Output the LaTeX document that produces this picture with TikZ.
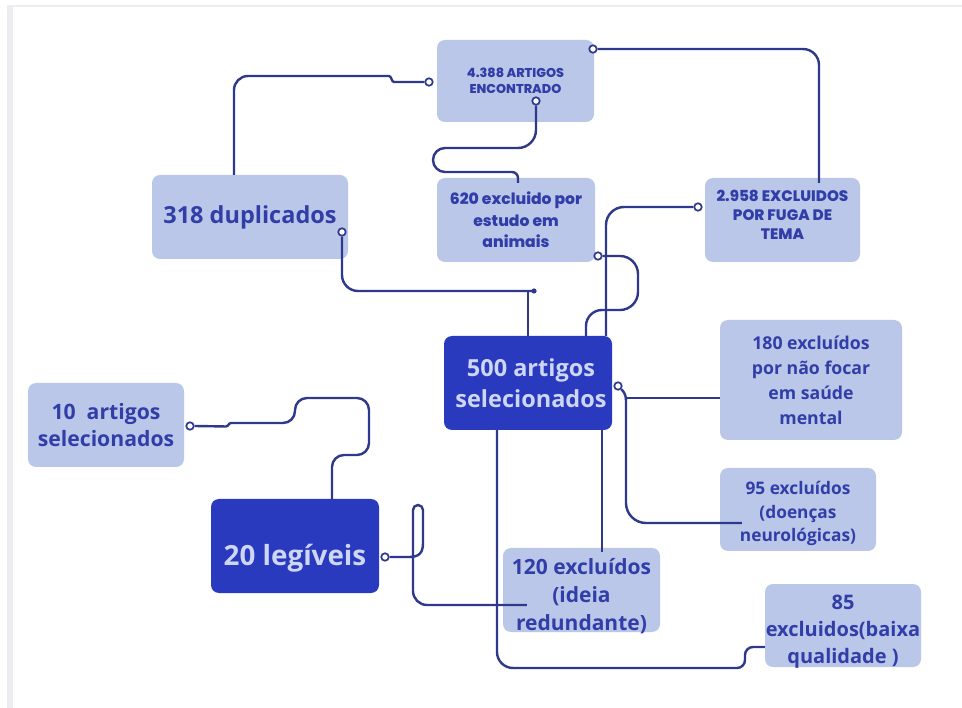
\documentclass[tikz,border=0pt]{standalone}
\usepackage{fontspec}
\setmainfont{Open Sans}
\newfontfamily\pop{Poppins}[BoldFont={* ExtraBold}]
\usetikzlibrary{calc}
\definecolor{lightb}{RGB}{186,199,232}
\definecolor{darkb}{RGB}{42,58,190}
\definecolor{txtc}{RGB}{50,62,168}
\definecolor{dtxt}{RGB}{205,214,245}
\definecolor{wirec}{RGB}{46,57,140}
\definecolor{framec}{RGB}{236,236,241}
\tikzset{
  lbox/.style={fill=lightb, rounded corners=8pt, inner sep=0pt},
  dbox/.style={fill=darkb, rounded corners=8pt, inner sep=0pt},
  lt/.style={text=txtc, align=center, inner sep=0pt},
  dt/.style={text=dtxt, align=center, inner sep=0pt},
  wire/.style={draw=wirec, line width=2.4pt, rounded corners=14pt},
  port/.style={circle, draw=wirec, fill=white, line width=1.7pt, minimum size=7.5pt, inner sep=0pt},
  fs/.style 2 args={font=\fontsize{#1}{#2}\selectfont\bfseries},
  fp/.style 2 args={font=\pop\fontsize{#1}{#2}\selectfont\bfseries},
}
\begin{document}
\begin{tikzpicture}[x=1pt,y=-1pt]
\useasboundingbox (0,0) rectangle (962,708);
\fill[white] (0,0) rectangle (962,708);
\fill[framec] (7,5) rectangle (13,708);
\fill[framec] (7,5) rectangle (962,7);

% boxes (text set as centred labels so that it can sit off-centre as in the original)
\node[lbox, minimum width=157pt, minimum height=82pt,
  label={[lt, fp={12.8}{15.8}]center:4.388 ARTIGOS\\ENCONTRADO}] (enc) at (515.5,81) {};
\node[lbox, minimum width=196pt, minimum height=84pt,
  label={[lt, fs={23.5}{28}]center:318 duplicados}] (dup) at (250,217) {};
\node[lbox, minimum width=158pt, minimum height=84pt,
  label={[lt, fp={15.6}{21.5}]center:620 excluido por\\estudo em\\animais}] (ani) at (516,220) {};
\node[lbox, minimum width=155pt, minimum height=84pt,
  label={[lt, fp={15.2}{19}, yshift=5pt]center:2.958 EXCLUIDOS\\POR FUGA DE\\TEMA}] (tema) at (782.5,220) {};
\node[dbox, minimum width=168pt, minimum height=94pt,
  label={[dt, fs={23.5}{30.5}, xshift=3pt]center:500 artigos\\selecionados}] (sel) at (528,383) {};
\node[lbox, minimum width=182pt, minimum height=120pt,
  label={[lt, fs={17.7}{25}]center:180 excluídos\\por não focar\\em saúde\\mental}] (men) at (811,380) {};
\node[lbox, minimum width=156pt, minimum height=84pt,
  label={[lt, fs={21.2}{27}]center:10\ \ artigos\\selecionados}] (dez) at (106,425) {};
\node[lbox, minimum width=156pt, minimum height=83pt,
  label={[lt, fs={17.3}{23.5}, yshift=-4pt]center:95 excluídos\\(doenças\\neurológicas)}] (neu) at (798,509.5) {};
\node[dbox, minimum width=168pt, minimum height=94pt,
  label={[dt, fs={27.8}{32}, yshift=-12pt]center:20 legíveis}] (leg) at (295,546) {};
\node[lbox, minimum width=157pt, minimum height=84pt,
  label={[lt, fs={21}{28}, yshift=-6pt]center:120 excluídos\\(ideia\\redundante)}] (red) at (581.5,590) {};
\node[lbox, minimum width=156pt, minimum height=83pt,
  label={[lt, fs={20}{27}, yshift=-6pt]center:85\\excluidos(baixa\\qualidade )}] (baixa) at (843,625.5) {};

% connectors
\node[port] (p1) at (429,82) {};
\draw[wire] (p1.west) [rounded corners=1pt] -- (393,82) -- (390,76) [rounded corners=14pt] -- (234,76) -- ([xshift=-16pt]dup.north);

\node[port] (p2) at (536,101) {};
\draw[wire] (p2.south) [rounded corners=18pt] -- (536,148) [rounded corners=12pt] -- (433,148) -- (433,172) [rounded corners=6pt] -- (518,172) -- ([shift={(2,5)}]ani.north);

\node[port] (p3) at (593,49) {};
\draw[wire, rounded corners=16pt] (p3.east) -| ([shift={(36.5,5)}]tema.north);

\node[port] (p4) at (698,207) {};
\draw[wire, rounded corners=18pt] (p4.west) -| ([xshift=78pt]sel.north);

\node[port] (p5) at (598,256) {};
\draw[wire, rounded corners=18pt] (p5.east) -- (638,256) -- (638,310) [rounded corners=16pt] -- (586,310) -- ([xshift=58pt]sel.north);

\node[port] (p6) at (342,232) {};
\coordinate (j6) at (534,291);
\draw[wire, rounded corners=16pt] (p6.south) |- (j6);
\fill[wirec] (j6) circle (2.6pt);
\draw[wire] (j6 -| sel.north) -- (sel.north);

\node[port] (p7) at (618,386) {};
\draw[wire] (p7.south east) .. controls (623,391) and (626,394) .. (626,400);
\draw[wire] (625,398) -- ([shift={(0,18)}]men.west);
\draw[wire, rounded corners=20pt] (626,399) |- ([shift={(22,13.5)}]neu.west);

\draw[wire] ([xshift=74pt]sel.south) -- ([shift={(20.5,4)}]red.north);

\draw[wire] ([xshift=-31pt]sel.south) [rounded corners=16pt] -- (497,668) [rounded corners=8pt] -- (745,668) -- (745,647) -- ([shift={(0,21.5)}]baixa.west);

\node[port] (p10) at (385,557) {};
\draw[wire, sharp corners] (p10.east) -- (409,557) .. controls (419,557) and (423,553) .. (423,543) -- (423,510) arc[start angle=0, end angle=-180, radius=5] [rounded corners=14pt] -- (413,605) -- ([shift={(24,15)}]red.west);

\node[port] (p11) at (190,426) {};
\draw[wire, rounded corners=12pt] ([xshift=37pt]leg.north) -- (332,455) -- (369,455) -- (369,398) -- (295,398) -- (295,423) [rounded corners=1pt] -- (230,423) -- (227,426.5) -- (p11.east);
\end{tikzpicture}
\end{document}
